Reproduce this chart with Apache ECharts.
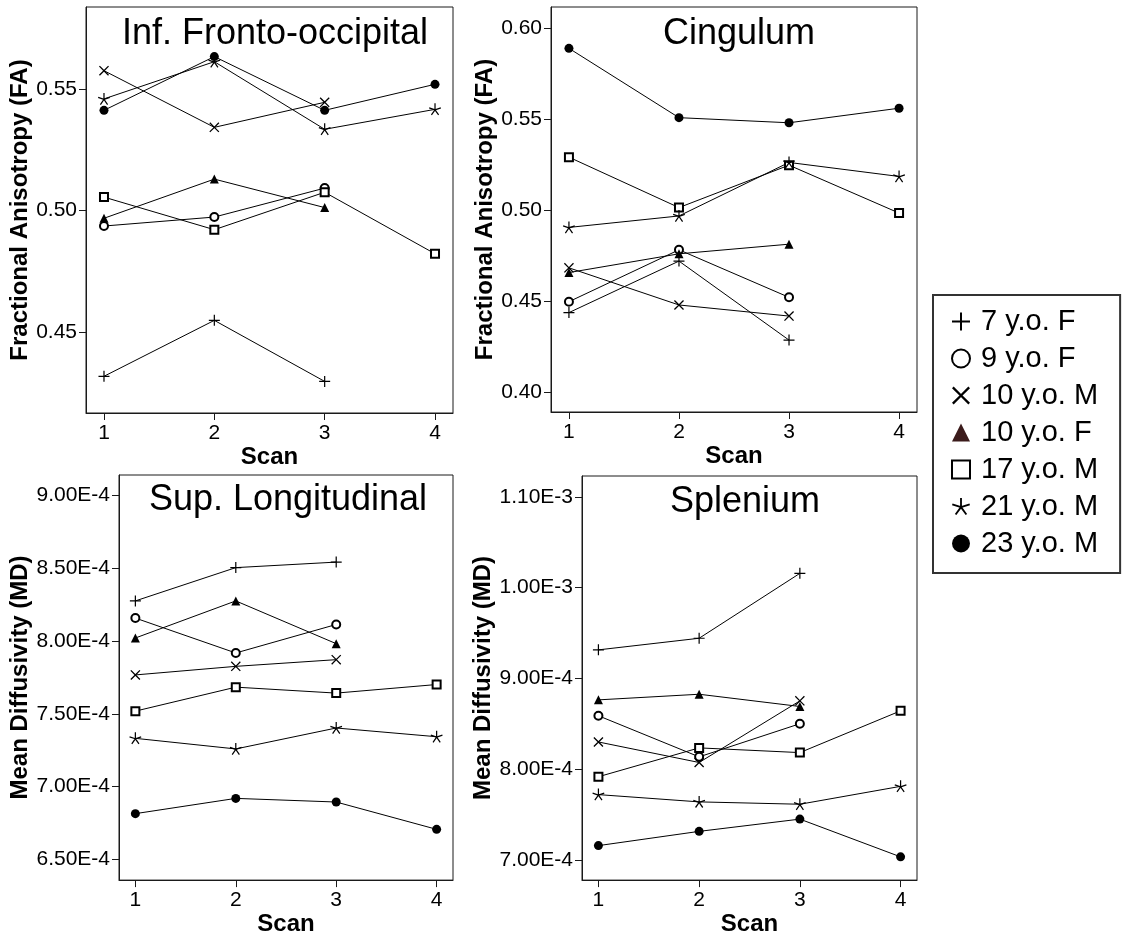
<!DOCTYPE html>
<html>
<head>
<meta charset="utf-8">
<script src="https://cdn.jsdelivr.net/npm/echarts@6/dist/echarts.min.js"></script>
<style>
  html, body { margin: 0; padding: 0; background: #fff; }
  #chart { width: 1124px; height: 937px; }
</style>
</head>
<body>
<div id="chart"></div>
<script>
// Four small-multiple panels of DTI metrics per scan session, one line per subject.
const scans = [1, 2, 3, 4]
const subjects = ["7 y.o. F", "9 y.o. F", "10 y.o. M", "10 y.o. F", "17 y.o. M", "21 y.o. M", "23 y.o. M"]

// Inf. Fronto-occipital, FA (rows follow `subjects`)
const ifoFA = [
  [0.4318, 0.4548, 0.4297],
  [0.4936, 0.4973, 0.5092],
  [0.5575, 0.5342, 0.5445],
  [0.4968, 0.5129, 0.5012],
  [0.5055, 0.4921, 0.5075, 0.4822],
  [0.5459, 0.5612, 0.5334, 0.5416],
  [0.5412, 0.5633, 0.5412, 0.5519]
]

// Cingulum, FA
const cingFA = [
  [0.4438, 0.4721, 0.4287],
  [0.4498, 0.4783, 0.4522],
  [0.4684, 0.4480, 0.4419],
  [0.4658, 0.4761, 0.4814],
  [0.5292, 0.5015, 0.5248, 0.4985],
  [0.4906, 0.4969, 0.5263, 0.5186],
  [0.5890, 0.5509, 0.5481, 0.5561]
]

// Sup. Longitudinal, MD
const slfMD = [
  [8.276e-4, 8.505e-4, 8.543e-4],
  [8.158e-4, 7.918e-4, 8.114e-4],
  [7.767e-4, 7.826e-4, 7.872e-4],
  [8.021e-4, 8.276e-4, 7.982e-4],
  [7.518e-4, 7.683e-4, 7.642e-4, 7.701e-4],
  [7.331e-4, 7.258e-4, 7.402e-4, 7.342e-4],
  [6.813e-4, 6.918e-4, 6.893e-4, 6.705e-4]
]

// Splenium, MD
const splMD = [
  [9.314e-4, 9.442e-4, 10.157e-4],
  [8.588e-4, 8.135e-4, 8.500e-4],
  [8.299e-4, 8.073e-4, 8.752e-4],
  [8.763e-4, 8.825e-4, 8.690e-4],
  [7.916e-4, 8.234e-4, 8.182e-4, 8.642e-4],
  [7.719e-4, 7.639e-4, 7.613e-4, 7.810e-4],
  [7.157e-4, 7.314e-4, 7.449e-4, 7.033e-4]
]

// tick values
const xTicks = [1, 2, 3, 4]
const ifoTicks = [0.45, 0.50, 0.55]
const cingTicks = [0.40, 0.45, 0.50, 0.55, 0.60]
const slfTicks = [6.5e-4, 7.0e-4, 7.5e-4, 8.0e-4, 8.5e-4, 9.0e-4]
const splTicks = [7.0e-4, 8.0e-4, 9.0e-4, 1.0e-3, 1.1e-3]

const FONT = "'Liberation Sans', Arial, sans-serif"
const faFmt = (v) => v.toFixed(2)
const mdFmt = (v) => v.toExponential(2).toUpperCase()

// thin filled spokes from the centre, used for +, x and * markers
function spokes(angles, w = 1.1) {
  let d = ""
  for (const a of angles) {
    const r = a * Math.PI / 180
    const dx = Math.cos(r), dy = Math.sin(r)
    const nx = -dy * w, ny = dx * w
    const pts = [
      [10 - nx, 10 - ny], [10 + dx * 10 - nx, 10 + dy * 10 - ny],
      [10 + dx * 10 + nx, 10 + dy * 10 + ny], [10 + nx, 10 + ny]
    ]
    d += "M" + pts.map(p => p[0].toFixed(2) + " " + p[1].toFixed(2)).join("L") + "Z"
  }
  return "path://" + d
}

const plusSym = spokes([0, 90, 180, 270])
const crossSym = spokes([45, 135, 225, 315], 1.0)
const starSym = spokes([-90, -18, 54, 126, 198], 1.0)

const markers = [
  { symbol: plusSym, size: 11 },
  { symbol: "emptyCircle", size: 8 },
  { symbol: crossSym, size: 10 },
  { symbol: "triangle", size: 9 },
  { symbol: "emptyRect", size: 8 },
  { symbol: starSym, size: 12 },
  { symbol: "circle", size: 9 }
]

const panels = [
  { title: "Inf. Fronto-occipital", data: ifoFA, ticks: ifoTicks, fmt: faFmt, yName: "Fractional Anisotropy (FA)",
    grid: { left: 86, top: 7, width: 367, height: 406 }, yMin: 0.4167, yMax: 0.5837,
    titleX: 275, titleY: 16, yGap: 45, xGap: 25 },
  { title: "Cingulum", data: cingFA, ticks: cingTicks, fmt: faFmt, yName: "Fractional Anisotropy (FA)",
    grid: { left: 551, top: 7, width: 366, height: 405 }, yMin: 0.3892, yMax: 0.6117,
    titleX: 739, titleY: 16, yGap: 51, xGap: 25 },
  { title: "Sup. Longitudinal", data: slfMD, ticks: slfTicks, fmt: mdFmt, yName: "Mean Diffusivity (MD)",
    grid: { left: 119, top: 475, width: 334, height: 407 }, yMin: 6.356e-4, yMax: 9.142e-4,
    titleX: 288, titleY: 482, yGap: 77, xGap: 22 },
  { title: "Splenium", data: splMD, ticks: splTicks, fmt: mdFmt, yName: "Mean Diffusivity (MD)",
    grid: { left: 582, top: 476, width: 335, height: 407 }, yMin: 6.777e-4, yMax: 11.23e-4,
    titleX: 745, titleY: 484, yGap: 80, xGap: 22 }
]

const tickLabel = { color: "#000", fontSize: 21, fontFamily: FONT }
const axisName = { color: "#000", fontSize: 24, fontWeight: "bold", fontFamily: FONT }

const grid = [], xAxis = [], yAxis = [], title = [], series = []

panels.forEach((p, i) => {
  grid.push({ ...p.grid, show: true, borderColor: "#1a1a1a", borderWidth: 1, backgroundColor: "#fff" })
  title.push({
    text: p.title, left: p.titleX, top: p.titleY, textAlign: "center", padding: 0,
    textStyle: { fontSize: 36, fontWeight: "normal", color: "#000", fontFamily: FONT }
  })
  xAxis.push({
    type: "value", gridIndex: i, min: 0.837, max: 4.163,
    name: "Scan", nameLocation: "middle", nameGap: p.xGap, nameTextStyle: axisName,
    splitLine: { show: false },
    axisLine: { show: true, onZero: false, lineStyle: { color: "#1a1a1a", width: 1 } },
    axisTick: { show: true, length: 7, customValues: xTicks, lineStyle: { color: "#1a1a1a" } },
    axisLabel: { ...tickLabel, margin: 10, customValues: xTicks, formatter: (v) => String(v) }
  })
  yAxis.push({
    type: "value", gridIndex: i, min: p.yMin, max: p.yMax,
    name: p.yName, nameLocation: "middle", nameGap: p.yGap, nameTextStyle: axisName,
    splitLine: { show: false },
    axisLine: { show: true, lineStyle: { color: "#1a1a1a", width: 1 } },
    axisTick: { show: true, length: 7, customValues: p.ticks, lineStyle: { color: "#1a1a1a" } },
    axisLabel: { ...tickLabel, margin: 9, customValues: p.ticks, formatter: p.fmt }
  })
  p.data.forEach((row, s) => {
    series.push({
      type: "line", name: subjects[s], xAxisIndex: i, yAxisIndex: i,
      data: row.map((v, k) => [scans[k], v]),
      symbol: markers[s].symbol, symbolSize: markers[s].size,
      lineStyle: { color: "#000", width: 1 },
      itemStyle: { color: "#000" },
      emphasis: { disabled: true }
    })
  })
})

const legendIcons = [plusSym, "emptyCircle", crossSym, "triangle", "emptyRect", starSym, "circle"]

const chart = echarts.init(document.getElementById("chart"), null, { renderer: "canvas" })
chart.setOption({
  animation: false,
  backgroundColor: "#fff",
  title,
  grid, xAxis, yAxis, series,
  legend: {
    orient: "vertical", left: 933, top: 295,
    padding: [12, 22, 15, 18],
    borderColor: "#333", borderWidth: 2, backgroundColor: "#fff",
    itemWidth: 18, itemHeight: 18, itemGap: 8,
    selectedMode: false,
    textStyle: { color: "#000", fontSize: 29, fontFamily: FONT, padding: [0, 0, 0, 6] },
    data: subjects.map((name, s) => ({
      name, icon: legendIcons[s],
      itemStyle: s === 3 ? { color: "#3b1b1b" } : undefined
    }))
  }
})
</script>
</body>
</html>
